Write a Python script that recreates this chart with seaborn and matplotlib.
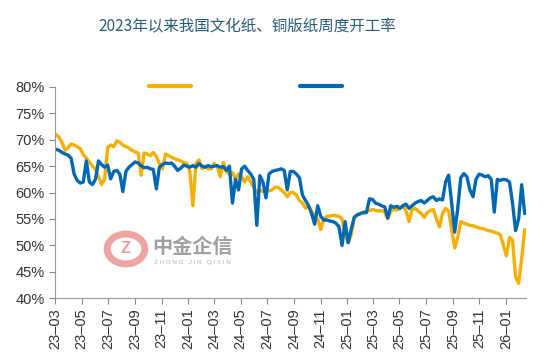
import numpy as np
import pandas as pd
import seaborn as sns
import matplotlib.pyplot as plt
import matplotlib.dates as mdates
from matplotlib.lines import Line2D
from matplotlib.patches import Ellipse

# weekly operating rate (%), from 2023-03-03
start_date = '2023-03-03'
wenhua = [
    71.0, 70.5, 69.5, 68.0, 68.5, 69.2, 69.0, 68.7, 68.3, 67.2,
    66.5, 65.8, 65.0, 64.5, 63.0, 61.5, 62.5, 68.5, 69.0, 68.7,
    69.8, 69.5, 69.0, 68.7, 68.4, 68.0, 67.7, 67.5, 63.3, 67.5,
    67.3, 67.0, 67.6, 66.8, 65.5, 64.5, 67.3, 67.0, 66.7, 66.4,
    66.2, 66.0, 65.7, 65.5, 64.0, 57.5, 65.5, 66.2, 64.5, 65.0,
    64.5, 64.5, 65.5, 65.0, 63.0, 65.7, 64.0, 63.5, 63.8, 62.5,
    63.5, 63.0, 62.0, 63.0, 62.0, 61.0, 60.0, 60.5, 60.2, 60.7,
    60.3, 60.5, 61.0, 61.0, 60.5, 60.0, 59.2, 60.0, 60.0, 59.5,
    58.5, 58.0, 57.0, 57.5, 56.5, 55.5, 55.0, 53.0, 55.0, 55.5,
    55.5, 55.7, 55.6, 55.5, 55.0, 52.0, 50.5, 52.0, 55.3, 55.7,
    56.0, 56.3, 56.5, 56.6, 56.8, 56.6, 56.5, 56.6, 56.3, 55.0,
    56.5, 56.8, 56.7, 57.0, 57.5, 56.5, 54.5, 56.8, 57.0, 56.5,
    56.0, 55.3, 56.2, 56.6, 56.8, 55.0, 53.5, 56.0, 57.0, 56.5,
    53.0, 49.5, 51.5, 54.5, 54.2, 54.0, 53.8, 53.7, 53.5, 53.3,
    53.2, 53.0, 52.8, 52.7, 52.5, 52.3, 52.0, 50.0, 48.0, 51.5,
    51.0, 44.0, 42.8, 47.5, 53.0,
]
tongban = [
    68.2, 68.0, 67.6, 67.3, 67.1, 66.5, 63.5, 62.3, 61.8, 62.0,
    66.0, 62.0, 61.5, 62.5, 66.0, 65.3, 64.8, 65.2, 62.6, 64.0,
    64.2, 63.5, 60.2, 64.0, 64.8, 65.3, 65.8, 65.6, 65.1, 64.7,
    64.8, 64.5, 64.4, 60.7, 64.8, 65.3, 65.6, 65.5, 65.6, 65.0,
    64.2, 64.6, 65.2, 65.0, 64.8, 65.1, 64.8, 65.5, 65.0, 64.8,
    65.1, 64.9, 65.0, 65.1, 64.8, 64.9, 64.2, 65.0, 58.0, 62.5,
    60.5, 64.5, 65.0, 64.2, 63.5, 62.5, 53.8, 63.2, 62.0, 59.0,
    63.5, 64.0, 64.2, 64.3, 64.5, 64.2, 60.5, 64.0, 64.0, 63.5,
    62.8, 59.5, 58.5, 57.5, 56.0, 54.0, 57.5, 55.5, 54.8, 54.8,
    54.6, 54.5, 54.2, 53.5, 50.0, 54.5, 50.5, 53.0, 55.3, 55.8,
    56.0, 56.2, 56.2, 58.8, 58.7, 58.0, 57.8, 57.5, 57.3, 55.2,
    57.5, 57.2, 57.4, 57.0, 57.5, 57.8, 57.0, 57.5, 58.0, 58.3,
    58.5, 58.0, 58.5, 59.0, 59.2, 58.5, 58.8, 58.6, 62.0, 63.3,
    58.0, 52.5, 57.0, 62.8, 63.6, 63.0, 60.5, 59.2, 62.5, 63.5,
    63.3, 63.0, 63.2, 62.5, 56.3, 62.5, 62.3, 62.5, 62.4, 62.0,
    58.0, 52.8, 55.0, 61.5, 56.0,
]
series_names = ['文化纸', '铜版纸']
colors = ['#F5AF00', '#0068B2']

dates = pd.date_range(start_date, periods=len(wenhua), freq='7D')
df = pd.DataFrame({'date': dates, '文化纸': wenhua, '铜版纸': tongban})
df_long = df.melt(id_vars='date', var_name='series', value_name='rate')

sns.set_theme(style="ticks")
plt.rcParams['font.family'] = ['Liberation Sans', 'Noto Sans CJK SC', 'DejaVu Sans']

fig = plt.figure(figsize=(5.54, 3.64), dpi=100)
ax = fig.add_axes([0.0993, 0.181, 0.8502, 0.580])

sns.lineplot(data=df_long, x='date', y='rate', hue='series',
             palette=dict(zip(series_names, colors)), linewidth=2.4,
             ax=ax, legend=False)

ax.set_ylim(40, 80)
ax.set_yticks(np.arange(40, 81, 5))
ax.yaxis.set_major_formatter(plt.FuncFormatter(lambda v, p: f'{v:.0f}%'))
ax.set_xlim(pd.Timestamp('2023-03-01'), pd.Timestamp('2026-02-16'))
ax.xaxis.set_major_locator(mdates.MonthLocator(bymonth=[1, 3, 5, 7, 9, 11]))
ax.xaxis.set_major_formatter(mdates.DateFormatter('%y–%m'))
ax.set_xlabel('')
ax.set_ylabel('')
for lab in ax.get_xticklabels():
    lab.set_rotation(90)
ax.tick_params(axis='both', labelsize=10.5, colors='#888888', labelcolor='#333333',
               length=4, width=0.8, direction='out')
for s in ['top', 'right']:
    ax.spines[s].set_visible(False)
for s in ['left', 'bottom']:
    ax.spines[s].set_color('#999999')
    ax.spines[s].set_linewidth(0.8)

# legend (no text labels, as in the source image)
handles = [Line2D([0], [0], color=c, lw=3, solid_capstyle='round') for c in colors]
fig.legend(handles, ['', ''], loc='center', bbox_to_anchor=(0.443, 0.761),
           ncol=2, frameon=False, handlelength=3.0, handletextpad=0,
           columnspacing=7.9, fontsize=10)

fig.text(0.447, 0.926, '2023年以来我国文化纸、铜版纸周度开工率',
         ha='center', va='center', fontsize=11.2, color='#2B5C7A',
         family=['Noto Sans CJK SC', 'DejaVu Sans'])

# watermark
logo = Ellipse((0.2274, 0.316), 0.068, 0.082, transform=fig.transFigure,
               facecolor='none', edgecolor='#EE9A9A', lw=5, alpha=0.9)
fig.patches.append(logo)
fig.text(0.2274, 0.316, 'Z', ha='center', va='center', fontsize=12,
         color='#EE9A9A', fontweight='bold')
fig.text(0.347, 0.322, '中金企信', ha='center', va='center', fontsize=14.5,
         color='#A0A0A0', fontweight='bold', family=['Noto Sans CJK SC', 'DejaVu Sans'])
fig.text(0.347, 0.278, 'Z H O N G   J I N   Q I X I N', ha='center', va='center',
         fontsize=4.5, color='#B0B0B0')

fig.savefig('out.png', dpi=100)
